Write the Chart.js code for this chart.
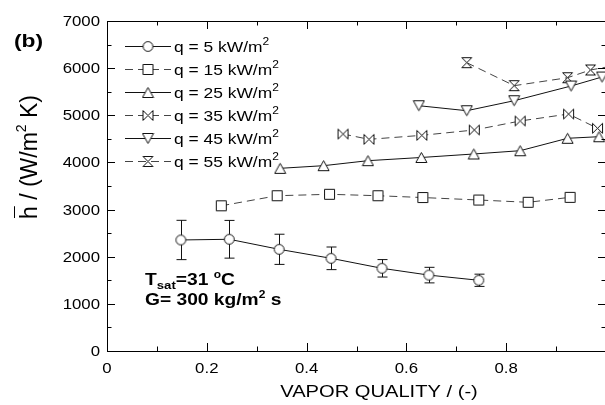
<!DOCTYPE html>
<html>
<head>
<meta charset="utf-8">
<script src="https://cdn.jsdelivr.net/npm/chart.js@4.4.1/dist/chart.umd.min.js"></script>
<style>
  html, body { margin: 0; padding: 0; background: #fff; overflow: hidden; }
  #wrap { width: 612px; height: 405px; }
</style>
</head>
<body>
<div id="wrap"><canvas id="c" width="612" height="405"></canvas></div>
<script>
// values
const q5x   = [0.148, 0.245, 0.345, 0.449, 0.551, 0.645, 0.745];
const q5y   = [2355, 2370, 2157, 1966, 1754, 1610, 1500];
const q5err = [417, 400, 320, 240, 185, 165, 130];
const q15x = [0.229, 0.341, 0.446, 0.543, 0.633, 0.745, 0.844, 0.928];
const q15y = [3080, 3294, 3324, 3294, 3255, 3203, 3154, 3260];
const q25x = [0.347, 0.434, 0.523, 0.630, 0.735, 0.828, 0.923, 0.986];
const q25y = [3875, 3931, 4037, 4105, 4179, 4249, 4512, 4546];
const q35x = [0.473, 0.525, 0.631, 0.736, 0.828, 0.925, 0.983];
const q35y = [4603, 4490, 4575, 4688, 4879, 5027, 4724];
const q45x = [0.625, 0.721, 0.816, 0.930, 0.992];
const q45y = [5203, 5097, 5309, 5621, 5812];
const q55x = [0.721, 0.816, 0.923, 0.969, 1.01];
const q55y = [6116, 5628, 5797, 5961, 6040];

const heatFluxes = ['5', '15', '25', '35', '45', '55'];
const xTickVals = [0, 0.2, 0.4, 0.6, 0.8];
const xTickLabels = ['0', '0.2', '0.4', '0.6', '0.8'];
const yTickVals = [0, 1000, 2000, 3000, 4000, 5000, 6000, 7000];
const yTickLabels = ['0', '1000', '2000', '3000', '4000', '5000', '6000', '7000'];

const FAM = '"Liberation Sans", Arial, sans-serif';
const SX = 1.2; // reference text is a bit wide

// marker images
function marker(kind) {
  const c = document.createElement('canvas');
  c.width = 13; c.height = 13;
  const g = c.getContext('2d');
  g.lineWidth = 1;
  g.strokeStyle = '#111';
  g.fillStyle = '#fff';
  g.beginPath();
  if (kind === 'circle') g.arc(6.5, 6.5, 4.9, 0, Math.PI * 2);
  if (kind === 'square') g.rect(1.5, 1.5, 10, 10);
  if (kind === 'up') { g.moveTo(6.5, 1.5); g.lineTo(12, 11.5); g.lineTo(1, 11.5); g.closePath(); }
  if (kind === 'down') { g.moveTo(1, 1.5); g.lineTo(12, 1.5); g.lineTo(6.5, 11.5); g.closePath(); }
  if (kind === 'bowtie') { g.moveTo(1.5, 1.5); g.lineTo(11.5, 11.5); g.lineTo(11.5, 1.5); g.lineTo(1.5, 11.5); g.closePath(); }
  if (kind === 'hour') { g.moveTo(1.5, 1.5); g.lineTo(11.5, 1.5); g.lineTo(1.5, 11.5); g.lineTo(11.5, 11.5); g.closePath(); }
  g.fill();
  g.stroke();
  return c;
}

const pts = (xs, ys) => xs.map((x, i) => ({ x: x, y: ys[i] }));

function series(xs, ys, kind, dashed) {
  return {
    data: pts(xs, ys),
    showLine: true,
    borderColor: dashed ? '#444' : '#111',
    borderWidth: 1,
    borderDash: dashed ? [8, 5] : [],
    pointStyle: marker(kind),
    pointRadius: 5,
    pointHoverRadius: 5
  };
}

const datasets = [
  series(q5x, q5y, 'circle', false),
  series(q15x, q15y, 'square', true),
  series(q25x, q25y, 'up', false),
  series(q35x, q35y, 'bowtie', true),
  series(q45x, q45y, 'down', false),
  series(q55x, q55y, 'hour', true)
];

// text pieces: [text, size, bold, dy]
function rich(ctx, parts, x, y, align, sx) {
  const f = p => (p[2] ? 'bold ' : '') + p[1] + 'px ' + FAM;
  let w = 0;
  parts.forEach(p => { ctx.font = f(p); w += ctx.measureText(p[0]).width; });
  let cx = align === 'center' ? -w / 2 : align === 'right' ? -w : 0;
  ctx.save();
  ctx.translate(x, y);
  ctx.scale(sx, 1);
  ctx.textAlign = 'left';
  ctx.textBaseline = 'alphabetic';
  ctx.fillStyle = '#000';
  parts.forEach(p => {
    ctx.font = f(p);
    ctx.fillText(p[0], cx, p[3] || 0);
    cx += ctx.measureText(p[0]).width;
  });
  ctx.restore();
}

const errorBars = {
  id: 'errorBars',
  beforeDatasetsDraw(chart) {
    const { ctx, scales: { x, y } } = chart;
    ctx.save();
    ctx.strokeStyle = '#111';
    ctx.lineWidth = 1;
    q5x.forEach((v, i) => {
      const px = Math.round(x.getPixelForValue(v)) + 0.5;
      const top = y.getPixelForValue(q5y[i] + q5err[i]);
      const bot = y.getPixelForValue(q5y[i] - q5err[i]);
      ctx.beginPath();
      ctx.moveTo(px, top); ctx.lineTo(px, bot);
      ctx.moveTo(px - 5, top); ctx.lineTo(px + 5, top);
      ctx.moveTo(px - 5, bot); ctx.lineTo(px + 5, bot);
      ctx.stroke();
    });
    ctx.restore();
  }
};

const frame = {
  id: 'frame',
  afterDatasetsDraw(chart) {
    const { ctx, chartArea: a, scales: { x, y } } = chart;
    ctx.save();
    ctx.strokeStyle = '#000';
    ctx.lineWidth = 1;
    ctx.beginPath();
    ctx.rect(a.left + 0.5, a.top + 0.5, a.right - a.left, a.bottom - a.top);
    // ticks pointing inward on all four sides
    for (let v = 0; v <= 1.0001; v += 0.1) {
      const px = Math.round(x.getPixelForValue(v)) + 0.5;
      const len = Math.round(v * 10) % 2 === 0 ? 8 : 4.5;
      ctx.moveTo(px, a.bottom); ctx.lineTo(px, a.bottom - len);
      ctx.moveTo(px, a.top); ctx.lineTo(px, a.top + len);
    }
    for (let v = 0; v <= 7000; v += 500) {
      const py = Math.round(y.getPixelForValue(v)) + 0.5;
      const len = v % 1000 === 0 ? 8 : 4.5;
      ctx.moveTo(a.left, py); ctx.lineTo(a.left + len, py);
      ctx.moveTo(a.right, py); ctx.lineTo(a.right - len, py);
    }
    ctx.stroke();

    // tick labels
    xTickVals.forEach((v, i) => rich(ctx, [[xTickLabels[i], 14, false]], x.getPixelForValue(v), a.bottom + 22, 'center', SX));
    yTickVals.forEach((v, i) => rich(ctx, [[yTickLabels[i], 14, false]], a.left - 7, y.getPixelForValue(v) + 5, 'right', SX));

    // axis titles
    rich(ctx, [['VAPOR QUALITY / (-)', 16.5, false]], 379, 397, 'center', 1.22);
    ctx.save();
    ctx.translate(37, 157);
    ctx.rotate(-Math.PI / 2);
    ctx.font = '23px ' + FAM;
    const hw = ctx.measureText('h').width;
    const parts = [['h', 23, false], [' / (W/m', 23, false], ['2', 14, false, -11], [' K)', 23, false]];
    let tw = 0;
    parts.forEach(p => { ctx.font = p[1] + 'px ' + FAM; tw += ctx.measureText(p[0]).width; });
    rich(ctx, parts, 0, 0, 'center', 1);
    ctx.beginPath();
    ctx.moveTo(-tw / 2 + 1, -22.5); ctx.lineTo(-tw / 2 + hw, -22.5);
    ctx.stroke();
    ctx.restore();

    // panel tag and conditions
    rich(ctx, [['(b)', 19, true]], 14, 47, 'left', SX);
    rich(ctx, [['T', 16, true], ['sat', 11, true, 4], ['=31 ', 16, true], ['o', 10, true, -7], ['C', 16, true]], 145, 285, 'left', SX);
    rich(ctx, [['G= 300 kg/m', 16, true], ['2', 10, true, -7], [' s', 16, true]], 145, 305, 'left', SX);

    // legend
    chart.data.datasets.forEach((ds, i) => {
      const ly = 46 + i * 23;
      ctx.save();
      ctx.strokeStyle = ds.borderColor;
      ctx.setLineDash(ds.borderDash);
      ctx.beginPath();
      ctx.moveTo(125, ly + 0.5); ctx.lineTo(171, ly + 0.5);
      ctx.stroke();
      ctx.restore();
      ctx.drawImage(ds.pointStyle, 148 - 6.5, ly - 6);
      rich(ctx, [['q = ' + heatFluxes[i] + ' kW/m', 14.5, false], ['2', 10, false, -7]], 174, ly + 5.5, 'left', SX);
    });
    ctx.restore();
  }
};

new Chart(document.getElementById('c'), {
  type: 'scatter',
  data: { datasets: datasets },
  options: {
    responsive: false,
    animation: false,
    devicePixelRatio: 1,
    layout: { padding: { left: 0, top: 21, right: 5, bottom: 0 } },
    plugins: { legend: { display: false }, tooltip: { enabled: false } },
    scales: {
      x: {
        type: 'linear', min: 0, max: 1,
        ticks: { display: false },
        grid: { display: false },
        border: { display: false },
        afterFit: s => { s.height = 54; }
      },
      y: {
        type: 'linear', min: 0, max: 7000,
        ticks: { display: false },
        grid: { display: false },
        border: { display: false },
        afterFit: s => { s.width = 107; }
      }
    }
  },
  plugins: [errorBars, frame]
});
</script>
</body>
</html>
